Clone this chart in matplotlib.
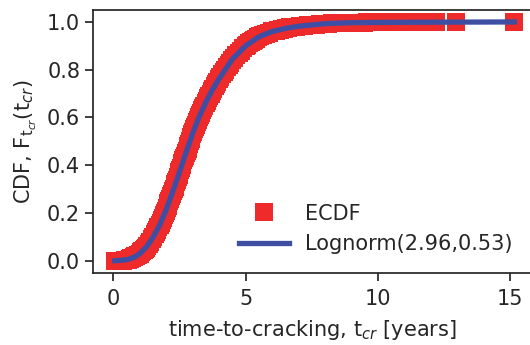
import matplotlib
matplotlib.use("Agg")
import matplotlib.pyplot as plt

# ECDF points: time (years) and cumulative fraction
ecdf_t = [0.05, 0.13, 0.20, 0.27, 0.35, 0.43, 0.50, 0.56, 0.62,
          0.66, 0.72, 0.78, 0.83, 0.87, 0.94, 1.00, 1.05, 1.09, 1.14, 1.18, 1.22,
          1.26, 1.33, 1.39, 1.45, 1.51,
          1.56, 1.61, 1.65, 1.70, 1.75, 1.79, 1.83, 1.87, 1.90, 1.94,
          1.98, 2.02, 2.05, 2.08, 2.11, 2.15, 2.18, 2.21, 2.24, 2.28,
          2.31, 2.34, 2.37, 2.40, 2.43, 2.46, 2.49, 2.52, 2.55, 2.58,
          2.61, 2.64, 2.67, 2.70, 2.73, 2.77, 2.80, 2.83, 2.86, 2.89,
          2.92, 2.95, 2.98, 3.02, 3.05, 3.09, 3.13, 3.16, 3.20, 3.23,
          3.27, 3.31, 3.35, 3.40, 3.44, 3.48, 3.52, 3.57, 3.62, 3.67,
          3.71, 3.76, 3.82, 3.87, 3.93, 3.98, 4.04, 4.10, 4.17, 4.23,
          4.29, 4.35, 4.41, 4.47, 4.55, 4.64, 4.73, 4.82, 4.91, 5.00,
          5.06, 5.13, 5.20, 5.26, 5.33, 5.39, 5.47, 5.55, 5.66, 5.77, 5.88, 6.00,
          6.08, 6.15, 6.22, 6.30, 6.38, 6.45, 6.52, 6.60, 6.68, 6.75, 6.82, 6.90,
          7.05, 7.20, 7.35, 7.50,
          7.65, 7.80, 7.95, 8.10, 8.25, 8.40, 8.55, 8.70, 8.85, 9.00,
          9.15, 9.30, 9.45, 9.60, 9.75, 9.90, 10.05, 10.20, 10.35, 10.50,
          10.65, 10.80, 10.95, 11.10, 11.25, 11.40, 11.55, 11.70, 11.85, 12.00,
          12.10, 12.20, 12.94, 15.14]
ecdf_F = [0.000, 0.000, 0.000, 0.000, 0.001, 0.002, 0.004, 0.005, 0.008,
          0.010, 0.012, 0.015, 0.018, 0.020, 0.025, 0.030, 0.035, 0.040, 0.045, 0.050, 0.055,
          0.06, 0.07, 0.08, 0.09, 0.10,
          0.11, 0.12, 0.13, 0.14, 0.15, 0.16, 0.17, 0.18, 0.19, 0.20,
          0.21, 0.22, 0.23, 0.24, 0.25, 0.26, 0.27, 0.28, 0.29, 0.30,
          0.31, 0.32, 0.33, 0.34, 0.35, 0.36, 0.37, 0.38, 0.39, 0.40,
          0.41, 0.42, 0.43, 0.44, 0.45, 0.46, 0.47, 0.48, 0.49, 0.50,
          0.51, 0.52, 0.53, 0.54, 0.55, 0.56, 0.57, 0.58, 0.59, 0.60,
          0.61, 0.62, 0.63, 0.64, 0.65, 0.66, 0.67, 0.68, 0.69, 0.70,
          0.71, 0.72, 0.73, 0.74, 0.75, 0.76, 0.77, 0.78, 0.79, 0.80,
          0.81, 0.82, 0.83, 0.84, 0.85, 0.86, 0.87, 0.88, 0.89, 0.90,
          0.905, 0.910, 0.915, 0.920, 0.925, 0.930, 0.935, 0.940, 0.945, 0.950, 0.955, 0.960,
          0.962, 0.964, 0.966, 0.968, 0.970, 0.972, 0.974, 0.975, 0.977, 0.978, 0.979, 0.980,
          0.983, 0.985, 0.986, 0.988,
          0.989, 0.991, 0.992, 0.993, 0.994, 0.995, 0.995, 0.996, 0.996, 0.997,
          0.997, 0.997, 0.997, 0.998, 0.998, 0.998, 0.998, 0.998, 0.999, 0.999,
          0.999, 0.999, 0.999, 0.999, 0.999, 0.999, 1.000, 1.000, 1.000, 1.000,
          1.000, 1.000, 1.000, 1.000]

# fitted lognormal curve
fit_t = [0.05, 0.5, 0.8, 1.0, 1.25, 1.5, 1.75, 2.0, 2.25, 2.5, 2.75, 3.0, 3.25,
         3.5, 3.75, 4.0, 4.5, 5.0, 5.5, 6.0, 6.5, 7.0, 8.0, 9.0, 10.0, 12.0, 15.15]
fit_F = [0.000, 0.004, 0.015, 0.030, 0.058, 0.098, 0.150, 0.215, 0.292, 0.372,
         0.455, 0.535, 0.605, 0.665, 0.718, 0.763, 0.845, 0.900, 0.938, 0.960,
         0.973, 0.982, 0.993, 0.997, 0.998, 0.999, 1.000]

ink = '#262626'
plt.rcParams['font.family'] = 'DejaVu Sans'
plt.rcParams['font.size'] = 15
plt.rcParams['mathtext.fontset'] = 'dejavusans'

fig = plt.figure(figsize=(5.3, 3.45), dpi=100)
ax = fig.add_axes([0.175, 0.2096, 0.828, 0.7614])

# snap=False so the squares sit on sub-pixel positions and the band looks smooth
ax.plot(ecdf_t, ecdf_F, 's', color='#EE2A2A', markersize=12.5,
        markeredgewidth=0, label='ECDF', snap=False)
ax.plot(fit_t, fit_F, '-', color='#3E4FA3', linewidth=3.8,
        label='Lognorm(2.96,0.53)')

ax.set_xlim(-0.78, 15.8)
ax.set_ylim(-0.05, 1.05)
ax.set_xticks([0, 5, 10, 15])
ax.set_yticks([0.0, 0.2, 0.4, 0.6, 0.8, 1.0])

ax.set_xlabel(r'time-to-cracking, t$_{cr}$ [years]', color=ink, labelpad=6)
ax.set_ylabel(r'CDF, F$_{\mathrm{t}_{cr}}$(t$_{cr}$)', color=ink, labelpad=6)

for s in ax.spines.values():
    s.set_color(ink)
    s.set_linewidth(1.25)
ax.tick_params(axis='both', colors=ink, labelcolor=ink, length=6, width=1.25)
ax.tick_params(axis='x', pad=6)
ax.tick_params(axis='y', pad=3)

ax.legend(loc='lower right', frameon=False, handlelength=2.4,
          labelcolor=ink, labelspacing=0.5)

fig.savefig('out.png', dpi=100)
